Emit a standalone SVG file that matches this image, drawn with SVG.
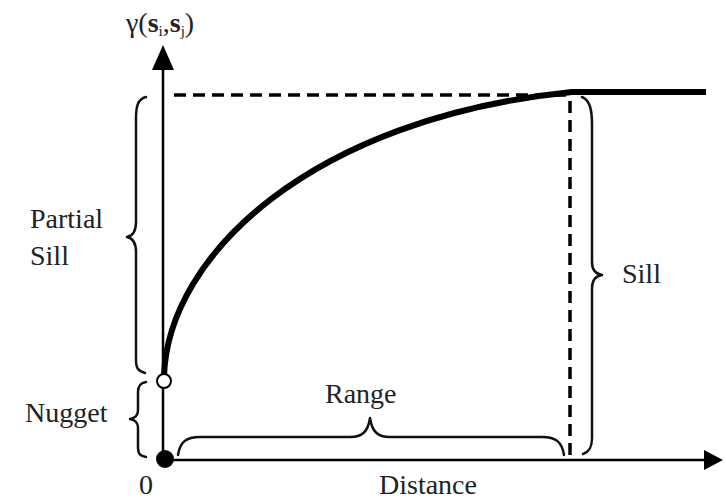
<svg xmlns="http://www.w3.org/2000/svg" width="726" height="500" viewBox="0 0 726 500">
<style>
.t{font-family:"Liberation Serif","DejaVu Serif","Times New Roman",serif;font-size:28px;fill:#222}
.br{fill:none;stroke:#111;stroke-width:2.5;stroke-linecap:round;stroke-linejoin:round}
.ax{stroke:#000;stroke-width:2.5;fill:none}
.ds{stroke:#000;stroke-width:3.5;stroke-dasharray:12,7;fill:none}
</style>
<rect width="726" height="500" fill="#fff"/>
<g id="connectors">
<line class="ax" x1="163" y1="460" x2="163" y2="68"/>
<polygon points="163,45 152,70 174,70" fill="#000"/>
<line class="ax" x1="163" y1="460" x2="706" y2="460"/>
<polygon points="723,460 704,450 704,470" fill="#000"/>
<line class="ds" x1="174" y1="95" x2="568" y2="95"/>
<line class="ds" x1="570" y1="101" x2="570" y2="456"/>
<path d="M164,376 C168,255 312,118 572,92 L706,92" fill="none" stroke="#000" stroke-width="6"/>
</g>
<g id="partial-sill">
<path class="br" d="M146,97 C138,99 136,106 136,118 L136,222 C136,232 132,236 127,237 C132,238 136,242 136,252 L136,360 C136,368 138,371 145,373"/>
<text class="t" x="30" y="228">Partial</text>
<text class="t" x="30" y="265">Sill</text>
</g>
<g id="nugget">
<path class="br" d="M146,382 C140,383 138,386 138,392 L138,410 C138,416 135,418 130,419 C135,420 138,422 138,428 L138,448 C138,454 140,456 146,457"/>
<text class="t" x="25" y="422">Nugget</text>
</g>
<g id="range">
<path class="br" d="M178,455 C180,442 186,437 200,437 L350,437 C362,437 368,432 370,418 C372,432 378,437 390,437 L542,437 C556,437 562,442 564,455"/>
<text class="t" x="325" y="403">Range</text>
</g>
<g id="sill">
<path class="br" d="M582,97 C590,100 592,110 592,125 L592,262 C592,270 596,274 602,275 C596,276 592,280 592,288 L592,438 C592,448 589,452 583,454"/>
<text class="t" x="622" y="283">Sill</text>
</g>
<g id="points">
<circle cx="164" cy="381" r="7" fill="#fff" stroke="#000" stroke-width="2"/>
<circle cx="165" cy="459" r="9" fill="#000"/>
</g>
<g id="labels">
<text class="t" x="126" y="32" font-size="24">γ(<tspan font-weight="bold">s</tspan><tspan font-size="15" dy="4">i</tspan><tspan dy="-4">,</tspan><tspan font-weight="bold">s</tspan><tspan font-size="15" dy="4">j</tspan><tspan dy="-4">)</tspan></text>
<text class="t" x="139" y="494">0</text>
<text class="t" x="379" y="494">Distance</text>
</g>
</svg>
